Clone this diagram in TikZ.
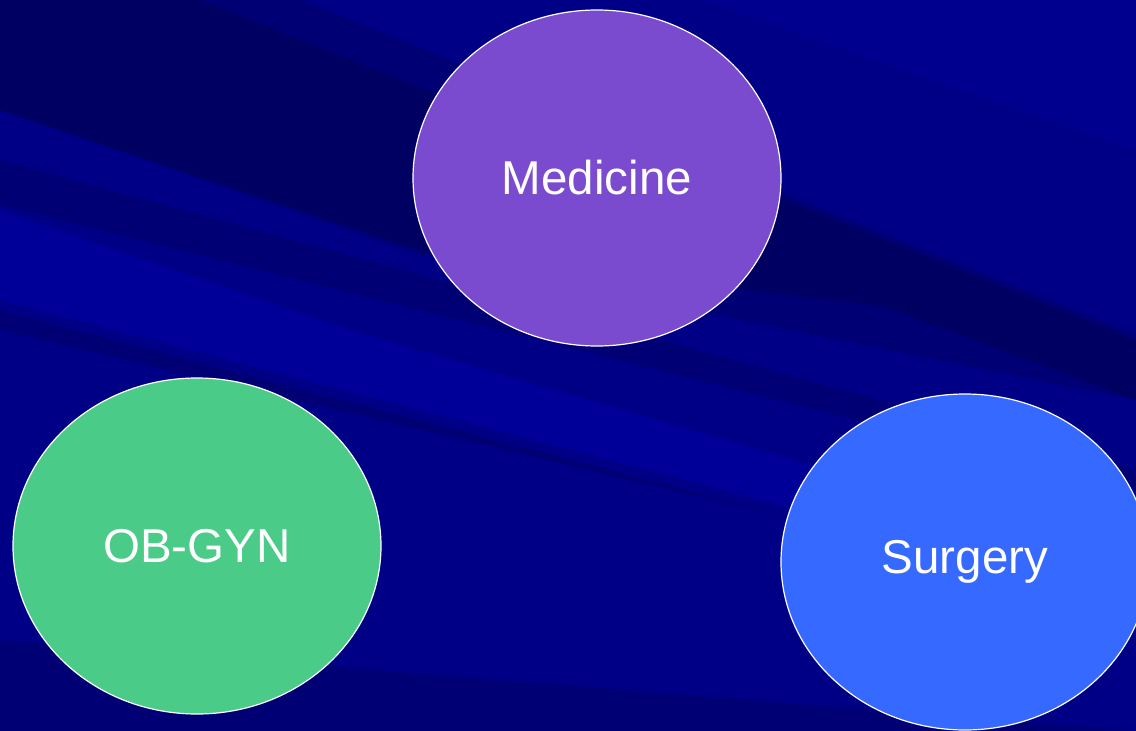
\documentclass[tikz,border=0pt]{standalone}
\usepackage{fontspec}
\setmainfont{Liberation Sans}
\usepackage{tikz}
\usetikzlibrary{shapes.geometric}

\definecolor{bgblue}{HTML}{000086}
\definecolor{bgdark}{HTML}{000062}
\definecolor{bgmid}{HTML}{000074}
\definecolor{bglight}{HTML}{000098}
\definecolor{medpurple}{HTML}{7B4BCF}
\definecolor{obgreen}{HTML}{4BCB88}
\definecolor{surgblue}{HTML}{3669FF}

\begin{document}
\begin{tikzpicture}[x=1pt, y=-1pt,
        dept/.style={ellipse, draw=white, line width=1.2pt, minimum width=368pt,
            minimum height=336pt, inner sep=0pt, text=white,
            font=\fontsize{47.5}{56}\selectfont}]
            \useasboundingbox (0,0) rectangle (1136,731);
            \clip (0,0) rectangle (1136,731);

            % Background
            \fill[bgblue] (0,0) rectangle (1136,731);
            \fill[bgmid] (0,-120) -- (1136,334) -- (1136,400) -- (420,255) -- (0,110) -- cycle;
            \fill[bgdark] (0,-80) -- (1000,320) -- (420,250) -- (0,110) -- cycle;
            \fill[bgdark] (760,190) -- (1136,340) -- (1136,400) -- (760,260) -- cycle;
            \fill[bgmid] (0,160) -- (1136,470) -- (1136,490) -- (0,205) -- cycle;
            \fill[bglight] (0,210) -- (350,330) -- (1136,560) -- (1136,600) -- (800,510) -- (0,300) -- cycle;
            \fill[bgmid] (0,310) -- (800,520) -- (0,330) -- cycle;
            \fill[bgmid] (0,640) -- (1136,731) -- (0,731) -- cycle;
            \fill[bglight, opacity=0.5] (700,0) -- (1136,0) -- (1136,150) -- cycle;

            % Nodes
            \node[dept, fill=medpurple] (med) at (597,178) {Medicine};
            \node[dept, fill=obgreen] (obgyn) at (197,546) {OB-GYN};
            \node[dept, fill=surgblue] (surg) at (965,562) {Surgery};
        \end{tikzpicture}
\end{document}
